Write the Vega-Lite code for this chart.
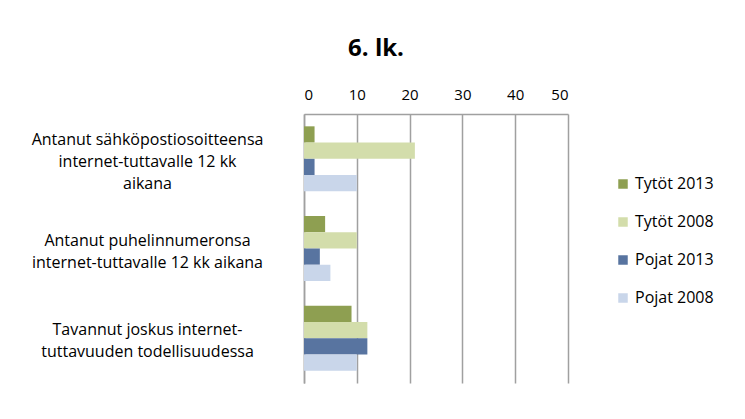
{
  "$schema": "https://vega.github.io/schema/vega-lite/v6.json",
  "autosize": {"type": "none"},
  "width": 264,
  "height": 269,
  "padding": {"left": 304, "top": 114, "right": 177, "bottom": 36},
  "background": "white",
  "config": {"view": {"stroke": null}, "font": "Open Sans"},
  "title": {
    "text": "6. lk.",
    "fontSize": 24,
    "fontWeight": "bold",
    "font": "Open Sans",
    "color": "#000000",
    "anchor": "middle",
    "frame": "group",
    "dx": -60,
    "offset": 26
  },
  "data": {
    "values": [
      {"kysymys": "Antanut sähköpostiosoitteensa|internet-tuttavalle 12 kk|aikana", "ryhma": "Tytöt 2013", "arvo": 2},
      {"kysymys": "Antanut sähköpostiosoitteensa|internet-tuttavalle 12 kk|aikana", "ryhma": "Tytöt 2008", "arvo": 21},
      {"kysymys": "Antanut sähköpostiosoitteensa|internet-tuttavalle 12 kk|aikana", "ryhma": "Pojat 2013", "arvo": 2},
      {"kysymys": "Antanut sähköpostiosoitteensa|internet-tuttavalle 12 kk|aikana", "ryhma": "Pojat 2008", "arvo": 10},
      {"kysymys": "Antanut puhelinnumeronsa|internet-tuttavalle 12 kk aikana", "ryhma": "Tytöt 2013", "arvo": 4},
      {"kysymys": "Antanut puhelinnumeronsa|internet-tuttavalle 12 kk aikana", "ryhma": "Tytöt 2008", "arvo": 10},
      {"kysymys": "Antanut puhelinnumeronsa|internet-tuttavalle 12 kk aikana", "ryhma": "Pojat 2013", "arvo": 3},
      {"kysymys": "Antanut puhelinnumeronsa|internet-tuttavalle 12 kk aikana", "ryhma": "Pojat 2008", "arvo": 5},
      {"kysymys": "Tavannut joskus internet-|tuttavuuden todellisuudessa", "ryhma": "Tytöt 2013", "arvo": 9},
      {"kysymys": "Tavannut joskus internet-|tuttavuuden todellisuudessa", "ryhma": "Tytöt 2008", "arvo": 12},
      {"kysymys": "Tavannut joskus internet-|tuttavuuden todellisuudessa", "ryhma": "Pojat 2013", "arvo": 12},
      {"kysymys": "Tavannut joskus internet-|tuttavuuden todellisuudessa", "ryhma": "Pojat 2008", "arvo": 10}
    ]
  },
  "mark": {"type": "bar"},
  "encoding": {
    "y": {
      "field": "kysymys",
      "type": "nominal",
      "sort": null,
      "scale": {"paddingInner": 0.275, "paddingOuter": 0.1375},
      "axis": {
        "title": null,
        "ticks": false,
        "domainColor": "#A0A0A0",
        "domainWidth": 1.5,
        "labelExpr": "split(datum.label, '|')",
        "labelAlign": "center",
        "labelBaseline": "middle",
        "labelPadding": 157,
        "labelOffset": {"condition": {"test": "length(split(datum.label, '|')) > 2", "value": -19}, "value": -8},
        "labelFontSize": 16,
        "labelLineHeight": 22,
        "labelColor": "#000000",
        "labelLimit": 400
      }
    },
    "yOffset": {
      "field": "ryhma",
      "type": "nominal",
      "sort": ["Tytöt 2013", "Tytöt 2008", "Pojat 2013", "Pojat 2008"],
      "scale": {"paddingInner": 0, "paddingOuter": 0}
    },
    "x": {
      "field": "arvo",
      "type": "quantitative",
      "scale": {"domain": [0, 50], "nice": false},
      "axis": {
        "orient": "top",
        "title": null,
        "values": [0, 10, 20, 30, 40, 50],
        "ticks": false,
        "grid": true,
        "gridColor": "#A0A0A0",
        "gridWidth": 1.5,
        "domainColor": "#A0A0A0",
        "domainWidth": 1.5,
        "labelPadding": 12,
        "labelFontSize": 15,
        "labelColor": "#000000"
      }
    },
    "color": {
      "field": "ryhma",
      "type": "nominal",
      "sort": ["Tytöt 2013", "Tytöt 2008", "Pojat 2013", "Pojat 2008"],
      "scale": {
        "domain": ["Tytöt 2013", "Tytöt 2008", "Pojat 2013", "Pojat 2008"],
        "range": ["#8E9F51", "#D3DDAB", "#5874A0", "#C9D6EA"]
      },
      "legend": {
        "title": null,
        "orient": "none",
        "legendX": 311,
        "legendY": 62,
        "symbolType": "square",
        "symbolSize": 90,
        "symbolStrokeWidth": 0,
        "labelFontSize": 16,
        "labelColor": "#000000",
        "rowPadding": 22,
        "labelOffset": 4
      }
    }
  }
}
